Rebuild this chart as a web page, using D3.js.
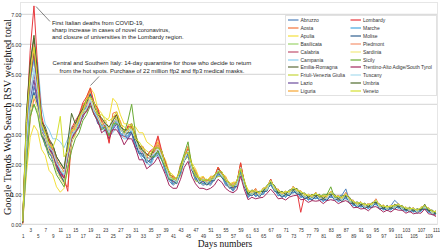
<!DOCTYPE html>
<html>
<head>
<meta charset="utf-8">
<script src="https://cdn.jsdelivr.net/npm/d3@7"></script>
<style>
  body { margin: 0; background: #fff; }
  svg { display: block; }
</style>
</head>
<body>
<svg id="chart" width="440" height="249"></svg>
<script>
// regions in legend order (left column first, then right column)
const regions = ['Abruzzo', 'Aosta', 'Apulia', 'Basilicata', 'Calabria', 'Campania', 'Emilia-Romagna',
  'Friuli-Venezia Giulia', 'Lazio', 'Liguria', 'Lombardy', 'Marche', 'Molise', 'Piedmont', 'Sardinia',
  'Sicily', 'Trentino-Alto Adige/South Tyrol', 'Tuscany', 'Umbria', 'Veneto'];

const colors = ['#4f81bd', '#f4743b', '#f3df3a', '#9bd36b', '#c0506d', '#86cdf0', '#5b6b3a',
  '#c5d63a', '#6a4a9c', '#f6a530', '#e8383d', '#45a7e0', '#2f5f8f', '#f5926e', '#f1ea80',
  '#6aab35', '#a3285f', '#a8dcef', '#4d6b2a', '#d4e02e'];

const yTicks = [0, 1, 2, 3, 4, 5, 6, 7];

// RSV per day (day 1 .. 111)
const abruzzo = [0.1,2.3,3.8,4.6,4.1,3.1,2.6,2.5,2.1,1.95, 1.55,1.45,2.2,2.8,3.1,3.2,3.7,3.8,4.15,3.75,
  3.55,3.15,3.3,2.95,3.2,3.45,3.0,2.95,2.9,3.15, 2.55,2.35,2.15,2.05,1.95,2.25,2.3,2.15,1.75,1.45,
  1.3,1.4,1.65,2.15,2.25,1.85,1.45,1.4,1.3,1.35, 1.3,1.5,1.6,1.6,1.3,1.25,1.1,1.3,1.7,1.3,
  0.9,1.05,0.92,1.0,1.0,1.18,1.3,1.12,1.02,0.9, 0.98,0.96,1.12,1.0,0.97,0.86,0.88,0.82,0.92,0.84,
  0.82,0.8,0.96,0.86,0.92,0.98,1.18,0.78,0.66,0.58, 0.62,0.55,0.57,0.58,0.72,0.52,0.53,0.5,0.62,0.8,
  0.68,0.5,0.48,0.43,0.46,0.4,0.48,0.53,0.45,0.34,0.36];
const aosta = [0.0,1.9,3.5,4.2,3.9,3.4,2.9,2.6,2.2,2.1, 1.6,1.35,1.25,2.7,3.3,3.4,4.0,4.1,4.5,3.9,
  3.8,3.3,3.2,2.75,3.7,3.75,3.4,2.9,3.3,3.35, 3.0,2.6,2.6,2.3,2.45,2.4,2.9,2.35,2.1,1.55,
  1.6,1.45,2.0,2.25,2.6,1.95,1.8,1.45,1.6,1.4, 1.6,1.6,1.9,1.65,1.6,1.25,1.4,1.4,2.05,1.35,
  1.1,1.05,1.2,0.95,1.18,1.15,1.48,1.15,1.18,0.96, 1.08,1.0,1.26,1.05,1.12,0.95,0.96,0.9,1.06,0.86,
  0.92,0.86,1.08,0.86,0.92,0.8,1.02,0.76,0.76,0.62, 0.74,0.6,0.66,0.62,0.84,0.58,0.6,0.54,0.62,0.57,
  0.68,0.53,0.56,0.48,0.55,0.43,0.57,0.56,0.5,0.37,0.4];
const apulia = [0.1,1.7,2.9,3.3,3.1,2.5,2.3,1.8,1.65,1.25, 1.07,1.2,1.85,2.75,2.95,3.45,3.75,4.25,4.55,4.35,
  3.85,3.7,3.45,3.55,4.2,4.05,3.65,3.35,3.35,3.25, 3.25,3.05,3.05,2.75,2.65,2.55,2.65,2.35,2.15,1.75,
  1.65,1.5,1.95,2.25,2.55,2.05,1.85,1.55,1.6,1.45, 1.6,1.55,1.85,1.7,1.6,1.35,1.4,1.4,1.95,1.4,
  1.15,1.06,1.14,1.02,1.2,1.22,1.44,1.2,1.14,1.02, 1.1,1.06,1.24,1.1,1.1,0.96,0.98,0.92,1.04,0.92,
  0.94,0.9,1.08,0.92,0.94,0.86,0.98,0.82,0.76,0.65, 0.72,0.61,0.65,0.65,0.8,0.6,0.61,0.55,0.61,0.6,
  0.67,0.55,0.55,0.5,0.53,0.46,0.55,0.58,0.52,0.4,0.42];
const basilicata = [0.1,2.1,3.6,4.0,3.75,3.0,2.85,2.45,2.25,1.85, 1.65,1.45,2.05,2.75,3.05,3.25,3.65,3.75,4.05,3.75,
  3.55,3.25,3.45,3.15,3.35,3.35,3.25,2.95,3.05,3.05, 2.75,2.45,2.45,2.15,2.25,2.25,2.45,2.15,1.95,1.55,
  1.55,1.45,1.85,2.15,2.45,1.85,1.65,1.45,1.5,1.35, 1.5,1.5,1.75,1.6,1.5,1.25,1.3,1.3,1.85,1.3,
  1.05,1.0,1.1,0.96,1.14,1.16,1.38,1.16,1.08,0.96, 1.04,1.0,1.18,1.06,1.04,0.92,0.93,0.87,0.98,0.87,
  0.88,0.86,1.03,0.87,0.88,0.82,0.98,0.77,0.72,0.63, 0.68,0.6,0.62,0.63,0.77,0.58,0.58,0.54,0.57,0.58,
  0.64,0.53,0.52,0.48,0.5,0.43,0.52,0.58,0.5,0.38,0.4];
const calabria = [0.1,3.0,4.4,5.0,4.2,3.3,2.8,2.65,2.25,2.05, 1.65,1.65,2.15,3.05,3.05,3.45,3.65,4.05,4.15,3.95,
  3.55,3.45,3.25,3.15,3.35,3.55,3.15,3.05,3.05,3.25, 2.75,2.55,2.35,2.25,2.15,2.45,2.45,2.35,1.85,1.65,
  1.4,1.5,1.75,2.25,2.35,1.95,1.55,1.5,1.4,1.45, 1.4,1.6,1.7,1.7,1.4,1.35,1.2,1.4,1.8,1.4,
  0.96,1.1,1.0,1.04,1.06,1.24,1.36,1.24,1.02,1.04, 0.96,1.1,1.12,1.14,0.96,0.99,0.87,0.94,0.92,0.94,
  0.82,0.94,0.97,0.94,0.82,0.89,0.92,0.84,0.67,0.68, 0.62,0.65,0.57,0.68,0.72,0.63,0.52,0.58,0.52,0.63,
  0.59,0.58,0.47,0.53,0.45,0.48,0.47,0.63,0.45,0.43,0.35];
const campania = [0.1,2.0,3.9,5.0,5.4,3.95,3.35,3.15,2.85,2.85, 2.75,2.55,2.85,3.25,3.25,3.55,3.65,3.95,3.95,3.75,
  3.35,3.25,3.05,2.95,3.05,3.25,2.95,2.85,2.85,3.05, 2.55,2.35,2.15,2.05,1.95,2.25,2.25,2.15,1.75,1.55,
  1.35,1.45,1.65,2.15,2.25,1.85,1.45,1.45,1.35,1.4, 1.35,1.55,1.65,1.65,1.35,1.3,1.15,1.35,1.75,1.35,
  0.9,1.04,0.96,0.99,1.0,1.19,1.3,1.19,0.96,0.99, 0.9,1.04,1.06,1.09,0.9,0.94,0.81,0.89,0.86,0.89,
  0.76,0.89,0.91,0.89,0.76,0.84,0.86,0.79,0.62,0.65, 0.58,0.61,0.53,0.65,0.67,0.59,0.49,0.55,0.49,0.59,
  0.55,0.55,0.45,0.51,0.43,0.46,0.45,0.59,0.42,0.41,0.33];
const emilia = [0.05,3.6,5.3,6.2,4.9,3.45,3.25,2.85,2.65,2.25, 2.05,1.85,2.55,3.15,3.35,3.55,3.95,4.05,4.35,3.95,
  3.75,3.35,3.45,3.15,3.55,3.55,3.35,3.05,3.25,3.25, 2.95,2.55,2.55,2.25,2.35,2.45,2.65,2.35,2.05,1.65,
  1.55,1.45,1.9,2.2,2.5,1.9,1.7,1.45,1.55,1.4, 1.55,1.55,1.85,1.65,1.55,1.3,1.35,1.35,1.95,1.35,
  1.1,1.05,1.15,1.0,1.2,1.2,1.5,1.2,1.15,1.0, 1.1,1.05,1.25,1.1,1.1,0.95,1.0,0.9,1.05,0.9,
  0.95,0.9,1.1,0.9,0.95,0.85,1.05,0.8,0.8,0.65, 0.75,0.61,0.69,0.63,0.83,0.59,0.63,0.53,0.63,0.57,
  0.69,0.53,0.57,0.47,0.55,0.43,0.57,0.57,0.55,0.39,0.45];
const friuli = [0.1,3.1,4.7,5.6,4.5,3.5,2.95,2.75,2.35,2.15, 1.75,1.75,2.25,3.05,3.05,3.45,3.65,3.95,4.05,3.85,
  3.45,3.35,3.25,3.15,3.25,3.55,3.15,3.05,3.05,3.25, 2.65,2.45,2.25,2.15,2.05,2.35,2.35,2.25,1.75,1.55,
  1.35,1.4,1.65,2.15,2.25,1.85,1.45,1.4,1.35,1.35, 1.35,1.5,1.6,1.6,1.35,1.25,1.15,1.3,1.7,1.3,
  0.96,1.1,1.0,1.04,1.06,1.24,1.36,1.24,1.01,1.04, 0.96,1.09,1.11,1.14,0.96,0.99,0.86,0.94,0.91,0.94,
  0.81,0.94,0.96,0.94,0.81,0.89,0.91,0.84,0.66,0.69, 0.61,0.66,0.56,0.69,0.71,0.64,0.51,0.59,0.51,0.64,
  0.58,0.59,0.46,0.54,0.44,0.49,0.46,0.64,0.44,0.44,0.34];
const lazio = [0.1,2.4,4.2,4.8,4.0,3.15,2.75,2.55,2.25,2.05, 1.65,1.65,2.15,2.95,3.05,3.35,3.55,3.85,3.95,3.75,
  3.35,3.25,3.15,3.05,3.15,3.35,2.95,2.95,2.85,3.05, 2.55,2.45,2.25,2.15,2.05,2.35,2.35,2.25,1.75,1.55,
  1.35,1.45,1.7,2.2,2.3,1.9,1.5,1.45,1.35,1.4, 1.35,1.55,1.65,1.65,1.35,1.3,1.15,1.35,1.75,1.35,
  0.9,1.05,0.95,1.0,1.0,1.2,1.3,1.2,0.95,1.0, 0.9,1.05,1.05,1.1,0.9,0.95,0.82,0.9,0.86,0.9,
  0.78,0.9,0.91,0.9,0.78,0.86,0.88,0.82,0.64,0.66, 0.6,0.63,0.54,0.66,0.68,0.61,0.5,0.56,0.5,0.61,
  0.56,0.56,0.45,0.51,0.43,0.46,0.45,0.6,0.43,0.41,0.33];
const liguria = [0.1,3.3,4.9,5.8,4.8,3.35,3.15,2.75,2.55,2.15, 1.95,1.75,2.45,3.05,3.35,3.55,3.95,4.15,4.45,4.05,
  3.85,3.45,3.45,3.15,3.55,3.65,3.45,3.05,3.25,3.25, 2.95,2.55,2.55,2.25,2.35,2.45,2.75,2.35,2.05,1.65,
  1.6,1.45,1.9,2.25,2.55,1.95,1.75,1.5,1.55,1.4, 1.55,1.55,1.9,1.7,1.55,1.3,1.35,1.35,2.0,1.4,
  1.1,1.05,1.15,1.0,1.2,1.2,1.5,1.2,1.15,1.0, 1.1,1.05,1.25,1.1,1.1,0.95,1.0,0.9,1.05,0.9,
  0.95,0.9,1.1,0.9,0.95,0.85,1.05,0.8,0.77,0.63, 0.73,0.6,0.67,0.63,0.83,0.57,0.63,0.53,0.62,0.57,
  0.69,0.53,0.57,0.47,0.55,0.42,0.57,0.57,0.55,0.37,0.45];
const lombardy = [0.05,3.4,5.8,7.28,5.2,3.65,3.05,2.85,2.45,2.15, 1.65,1.55,1.1,3.2,3.45,3.65,4.05,4.25,4.55,4.05,
  3.85,3.45,3.25,2.7,3.55,3.65,3.35,3.05,3.25,3.25, 2.95,2.55,2.55,2.25,2.45,2.55,2.95,2.45,2.05,1.65,
  1.6,1.45,1.9,2.2,2.5,1.9,1.7,1.45,1.55,1.4, 1.55,1.55,1.9,1.7,1.55,1.3,1.35,1.35,2.05,1.35,
  1.1,1.05,1.15,1.0,1.2,1.2,1.5,1.2,1.15,1.0, 1.1,1.05,1.25,1.1,0.4,0.95,1.0,0.9,1.05,0.9,
  0.95,0.9,1.1,0.9,0.95,0.85,1.05,0.8,0.8,0.65, 0.75,0.61,0.69,0.65,0.85,0.59,0.64,0.55,0.63,0.57,
  0.7,0.53,0.57,0.47,0.55,0.42,0.57,0.57,0.55,0.37,0.3];
const marche = [0.1,2.8,4.8,5.5,4.4,3.35,2.85,2.65,2.35,2.15, 1.75,1.65,2.25,3.05,3.05,3.45,3.65,3.95,4.05,3.85,
  3.45,3.25,3.15,3.05,3.25,3.45,3.05,2.95,2.95,3.15, 2.65,2.45,2.25,2.15,2.05,2.35,2.35,2.25,1.75,1.55,
  1.35,1.45,1.7,2.2,2.3,1.9,1.5,1.45,1.35,1.4, 1.35,1.55,1.65,1.65,1.35,1.3,1.15,1.35,1.75,1.35,
  0.9,1.05,0.95,1.0,1.0,1.2,1.3,1.2,0.95,1.0, 0.9,1.05,1.05,1.1,0.9,0.95,0.8,0.9,0.85,0.9,
  0.75,0.9,0.9,0.9,0.75,0.85,0.85,0.81,0.61,0.67, 0.57,0.63,0.51,0.67,0.65,0.61,0.47,0.57,0.47,0.61,
  0.53,0.57,0.42,0.52,0.4,0.47,0.42,0.6,0.39,0.42,0.31];
const molise = [0.1,2.2,3.9,4.4,3.95,2.95,2.75,2.35,2.25,1.85, 1.65,1.4,2.05,2.75,3.05,3.25,3.65,3.85,4.35,3.95,
  3.65,3.25,3.35,3.05,3.45,3.45,3.25,2.95,3.05,3.05, 2.75,2.35,2.35,2.05,2.15,2.25,2.45,2.15,1.9,1.5,
  1.45,1.35,1.8,2.1,2.4,1.8,1.6,1.35,1.45,1.3, 1.45,1.45,1.75,1.55,1.45,1.2,1.25,1.25,1.85,1.25,
  1.0,0.95,1.05,0.9,1.1,1.1,1.4,1.1,1.05,0.9, 1.0,0.95,1.15,1.0,1.0,0.85,0.9,0.8,0.95,0.8,
  0.85,0.8,1.0,0.8,0.85,0.75,0.95,0.7,0.7,0.55, 0.65,0.52,0.6,0.55,0.75,0.5,0.55,0.45,0.55,0.5,
  0.62,0.45,0.51,0.41,0.49,0.36,0.51,0.49,0.48,0.31,0.39];
const piedmont = [0.05,3.5,5.1,6.0,4.8,3.35,3.15,2.75,2.55,2.15, 1.95,1.75,2.45,3.05,3.25,3.45,3.85,3.95,4.25,3.85,
  3.65,3.35,3.35,3.05,3.45,3.45,3.25,2.95,3.15,3.15, 2.85,2.45,2.45,2.15,2.25,2.35,2.65,2.25,1.95,1.55,
  1.55,1.45,1.85,2.15,2.45,1.85,1.65,1.4,1.5,1.35, 1.5,1.5,1.8,1.6,1.5,1.25,1.3,1.3,1.9,1.3,
  1.05,1.0,1.1,0.95,1.15,1.15,1.45,1.15,1.1,0.95, 1.05,1.0,1.2,1.05,1.05,0.9,0.95,0.85,1.0,0.85,
  0.91,0.85,1.05,0.85,0.91,0.81,1.01,0.75,0.75,0.61, 0.71,0.57,0.65,0.61,0.81,0.55,0.61,0.51,0.61,0.55,
  0.67,0.51,0.55,0.45,0.53,0.4,0.55,0.55,0.53,0.35,0.43];
const sardinia = [0.1,2.1,3.8,4.3,3.85,3.05,2.85,2.45,2.25,1.75, 1.55,1.35,2.05,2.75,3.05,3.25,3.65,3.85,4.25,3.85,
  3.65,3.35,3.45,3.15,3.55,3.55,3.35,3.05,3.15,3.15, 2.85,2.55,2.55,2.25,2.35,2.35,2.55,2.25,1.95,1.6,
  1.55,1.45,1.85,2.15,2.45,1.9,1.7,1.45,1.55,1.4, 1.55,1.55,1.8,1.65,1.55,1.3,1.35,1.35,1.9,1.35,
  1.1,1.05,1.15,1.0,1.2,1.2,1.45,1.2,1.15,1.0, 1.1,1.05,1.25,1.1,1.1,0.95,1.0,0.9,1.05,0.9,
  0.95,0.9,1.1,0.9,0.95,0.85,1.03,0.79,0.79,0.65, 0.75,0.61,0.69,0.65,0.83,0.59,0.65,0.55,0.63,0.57,
  0.69,0.53,0.58,0.48,0.55,0.43,0.58,0.57,0.55,0.38,0.45];
const sicily = [0.1,2.0,3.6,4.0,3.65,2.95,2.65,2.25,2.05,1.65, 1.45,1.25,1.85,2.45,2.85,3.05,3.45,3.65,3.95,3.65,
  3.45,3.15,3.25,2.95,3.35,3.35,3.25,3.05,3.45,4.0, 3.05,2.55,2.45,2.15,2.25,2.25,2.45,2.15,1.9,1.5,
  1.5,1.4,1.95,2.35,2.75,1.95,1.7,1.45,1.5,1.35, 1.5,1.5,1.75,1.6,1.5,1.25,1.3,1.3,1.85,1.3,
  1.05,1.0,1.1,0.95,1.15,1.15,1.4,1.15,1.1,0.95, 1.05,1.0,1.2,1.05,1.05,0.9,0.95,0.87,1.03,0.9,
  1.0,1.0,1.25,0.9,0.9,0.8,1.0,0.75,0.75,0.61, 0.71,0.57,0.65,0.61,0.79,0.55,0.61,0.51,0.6,0.55,
  0.67,0.51,0.55,0.45,0.53,0.41,0.55,0.53,0.53,0.35,0.43];
const trentino = [0.05,3.2,4.9,5.7,4.5,3.15,2.95,2.55,2.35,1.95, 1.75,1.55,2.25,2.85,3.05,3.25,3.65,3.75,4.05,3.65,
  3.45,3.05,3.15,2.85,3.15,3.15,2.95,2.65,2.85,2.85, 2.55,2.15,2.15,1.85,1.95,2.05,2.25,1.95,1.65,1.3,
  1.2,1.2,1.5,1.9,2.1,1.6,1.35,1.2,1.2,1.15, 1.2,1.3,1.5,1.4,1.2,1.1,1.05,1.15,1.6,1.15,
  0.82,0.9,0.85,0.88,0.9,1.03,1.17,1.03,0.85,0.87, 0.81,0.91,0.95,0.97,0.82,0.83,0.73,0.79,0.77,0.79,
  0.69,0.79,0.82,0.79,0.69,0.75,0.79,0.71,0.55,0.57, 0.51,0.53,0.45,0.57,0.59,0.51,0.41,0.47,0.41,0.51,
  0.47,0.47,0.37,0.43,0.35,0.38,0.37,0.51,0.35,0.33,0.26];
const tuscany = [0.1,2.8,4.3,5.2,4.4,3.15,2.95,2.55,2.45,2.05, 1.85,1.65,2.35,2.95,3.15,3.35,3.75,3.85,4.15,3.75,
  3.55,3.25,3.35,3.05,3.45,3.45,3.25,2.95,3.15,3.15, 2.85,2.45,2.45,2.15,2.25,2.35,2.55,2.25,1.95,1.55,
  1.5,1.4,1.85,2.15,2.45,1.85,1.65,1.4,1.5,1.35, 1.5,1.5,1.8,1.6,1.5,1.25,1.3,1.3,1.9,1.3,
  1.05,1.0,1.1,0.95,1.15,1.15,1.45,1.15,1.1,0.95, 1.05,1.0,1.2,1.05,1.05,0.9,0.95,0.85,1.0,0.85,
  0.9,0.85,1.05,0.85,0.9,0.8,1.0,0.75,0.75,0.6, 0.7,0.57,0.65,0.6,0.8,0.55,0.6,0.5,0.6,0.55,
  0.67,0.5,0.55,0.45,0.53,0.4,0.55,0.55,0.53,0.35,0.43];
const umbria = [0.05,3.7,5.4,6.3,5.0,3.45,3.15,2.75,2.65,2.25, 2.05,1.85,2.75,3.7,3.35,3.65,3.85,4.15,4.25,4.05,
  3.65,3.55,3.35,3.25,3.45,3.65,3.25,3.15,3.15,3.35, 2.85,2.65,2.45,2.35,2.25,2.55,2.55,2.45,1.95,1.75,
  1.5,1.55,1.8,2.3,2.4,2.0,1.6,1.55,1.45,1.5, 1.45,1.65,1.75,1.75,1.45,1.4,1.25,1.45,1.85,1.45,
  1.0,1.15,1.05,1.1,1.1,1.3,1.4,1.3,1.05,1.1, 1.0,1.15,1.15,1.2,1.0,1.05,0.9,1.0,0.95,1.0,
  0.85,1.0,1.0,1.0,0.85,0.95,0.95,0.9,0.69,0.75, 0.65,0.71,0.58,0.73,0.73,0.68,0.53,0.63,0.53,0.67,
  0.59,0.63,0.47,0.57,0.45,0.52,0.47,0.67,0.45,0.48,0.35];
const veneto = [0.1,3.4,5.0,5.9,4.7,3.35,3.05,2.65,2.55,2.9, 3.6,2.25,2.45,3.15,3.15,3.55,3.75,4.15,4.25,4.05,
  3.65,3.65,3.55,3.45,3.55,3.75,3.35,3.25,3.15,3.35, 2.85,2.75,2.55,2.45,2.35,2.55,2.55,2.45,1.95,1.75,
  1.5,1.55,1.8,2.3,2.4,2.0,1.6,1.55,1.45,1.5, 1.45,1.65,1.75,1.75,1.45,1.4,1.25,1.45,1.85,1.45,
  1.08,1.12,1.1,1.06,1.18,1.26,1.46,1.24,1.12,1.06, 1.08,1.1,1.22,1.16,1.08,1.02,0.96,0.97,1.02,0.96,
  0.93,0.96,1.07,0.95,0.92,0.9,1.0,0.86,0.76,0.71, 0.72,0.67,0.65,0.69,0.8,0.64,0.6,0.59,0.6,0.63,
  0.66,0.6,0.54,0.53,0.52,0.48,0.54,0.63,0.52,0.44,0.42];

const seriesValues = [abruzzo, aosta, apulia, basilicata, calabria, campania, emilia, friuli, lazio,
  liguria, lombardy, marche, molise, piedmont, sardinia, sicily, trentino, tuscany, umbria, veneto];

const days = d3.range(1, 112);

const notes = [
  ['First Italian deaths from COVID-19,', 'sharp increase in cases of novel coronavirus,',
   'and closure of universities in the Lombardy region.'],
  ['Central and Southern Italy: 14-day quarantine for those who decide to return',
   'from the hot spots. Purchase of 22 million ffp2 and ffp3 medical masks.']
];

const svg = d3.select('#chart');
const sans = 'Liberation Sans, Arial, sans-serif';
const serif = 'Liberation Serif, Times New Roman, serif';

const x = d3.scaleLinear().domain([1, 111]).range([22.7, 436]);
const y = d3.scaleLinear().domain([0, 7]).range([224.3, 14.3]);

// plot frame
svg.append('rect')
    .attr('x', 20.5).attr('y', 2.5)
    .attr('width', 417).attr('height', 222)
    .attr('fill', 'none')
    .attr('stroke', '#e6e6e6');

// horizontal grid
svg.append('g')
    .selectAll('line')
    .data(yTicks)
    .join('line')
    .attr('x1', 21).attr('x2', 437)
    .attr('y1', d => y(d)).attr('y2', d => y(d))
    .attr('stroke', '#dcdcdc')
    .attr('stroke-width', 1.3);

// y axis labels
const yAxis = svg.append('g')
    .attr('transform', 'translate(21.5,0)')
    .call(d3.axisLeft(y).tickValues(yTicks).tickFormat(d3.format('.2f')).tickSize(0).tickPadding(0));
yAxis.select('.domain').remove();
yAxis.selectAll('text')
    .attr('font-family', sans).attr('font-size', 5.3).attr('fill', '#333');

// x axis labels, two staggered rows
const oddDays = days.filter(d => d % 2 === 1);
const xAxis = svg.append('g')
    .attr('transform', 'translate(0,224.3)')
    .call(d3.axisBottom(x).tickValues(oddDays).tickFormat(d3.format('d')).tickSize(0).tickPadding(0));
xAxis.select('.domain').remove();
xAxis.selectAll('text')
    .attr('font-family', sans).attr('font-size', 4.6).attr('fill', '#333')
    .attr('dy', null)
    .attr('y', d => ((d - 1) % 4 === 0 ? 14 : 7.6));

// series
const line = d3.line()
    .x((d, i) => x(days[i]))
    .y(d => y(d));

svg.append('g')
    .selectAll('path')
    .data(seriesValues)
    .join('path')
    .attr('d', d => line(d))
    .attr('fill', 'none')
    .attr('stroke', (d, i) => colors[i])
    .attr('stroke-width', 1)
    .attr('stroke-linejoin', 'round');

// annotations
const ann = svg.append('g').attr('font-family', sans).attr('font-size', 5.9).attr('fill', '#222');
ann.selectAll('text.n1')
    .data(notes[0])
    .join('text')
    .attr('x', 52).attr('y', (d, i) => 25.2 + i * 7.1)
    .text(d => d);
ann.selectAll('text.n2')
    .data(notes[1])
    .join('text')
    .attr('x', 152).attr('y', (d, i) => 65 + i * 8)
    .attr('text-anchor', 'middle')
    .text(d => d);
svg.append('line')
    .attr('x1', 36).attr('y1', 6.5).attr('x2', 50).attr('y2', 21.5)
    .attr('stroke', '#333').attr('stroke-width', 0.6);
svg.append('line')
    .attr('x1', 99).attr('y1', 76.5).attr('x2', 90.5).attr('y2', 85.5)
    .attr('stroke', '#333').attr('stroke-width', 0.6);

// legend
const legend = svg.append('g');
legend.append('rect')
    .attr('x', 285.5).attr('y', 15.5).attr('width', 151).attr('height', 80)
    .attr('fill', '#fff').attr('stroke', '#e2e2e2');
const item = legend.selectAll('g.item')
    .data(regions)
    .join('g')
    .attr('transform', (d, i) => `translate(${i < 10 ? 288 : 350.5},${Math.round(20 + (i % 10) * 7.9)})`);
item.append('line')
    .attr('x1', 0).attr('x2', 10.5)
    .attr('stroke', (d, i) => colors[i]).attr('stroke-width', 1.2);
item.append('text')
    .attr('x', 12.5).attr('dy', '0.35em')
    .attr('font-family', sans).attr('font-size', 5).attr('fill', '#333')
    .text(d => d);

// axis titles
svg.append('text')
    .attr('x', 225).attr('y', 246.5)
    .attr('text-anchor', 'middle')
    .attr('font-family', serif).attr('font-size', 9.5).attr('fill', '#111')
    .text('Days numbers');
svg.append('text')
    .attr('transform', 'translate(11,117) rotate(-90)')
    .attr('text-anchor', 'middle')
    .attr('font-family', serif).attr('font-size', 10.3).attr('fill', '#111')
    .text('Google Trends Web Search RSV weighted total');
</script>
</body>
</html>
